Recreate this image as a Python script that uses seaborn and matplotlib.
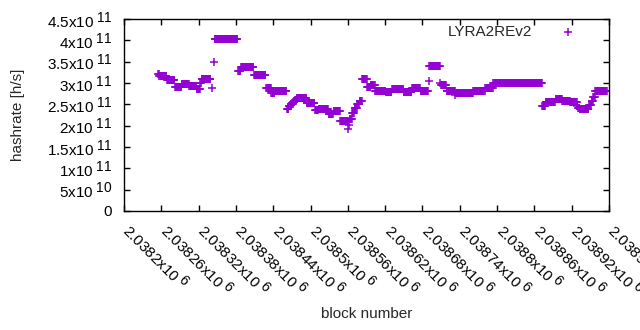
import numpy as np
import pandas as pd
import matplotlib
matplotlib.use("Agg")
import matplotlib.pyplot as plt
import matplotlib._mathtext as mathtext_impl
import seaborn as sns
from matplotlib.ticker import MultipleLocator, FuncFormatter
from matplotlib.transforms import ScaledTranslation

# Hashrate read off the chart as runs of constant value
# (block offset from 2038200, first and last block of the run, hashrate in 1e11 h/s)
BLOCK_BASE = 2038200
run_start = [55, 57, 69, 82, 93, 105, 117, 123, 125, 141, 144, 146, 184, 188, 209,
             229, 237, 243, 262, 265, 268, 272, 275, 278, 294, 307, 313, 329, 337, 348,
             361, 362, 363, 367, 371, 375, 379, 383, 391, 397, 404, 421, 431, 450, 463,
             477, 490, 491, 509, 510, 519, 533, 534, 562, 581, 594, 673, 678, 694, 705,
             718, 729, 730, 733, 748, 752, 755, 758]
run_end = [56, 68, 81, 92, 104, 116, 122, 124, 139, 141, 144, 182, 187, 208, 227,
           236, 242, 261, 264, 267, 271, 274, 277, 293, 306, 312, 328, 336, 347, 360,
           361, 362, 366, 370, 374, 378, 382, 390, 396, 403, 420, 430, 449, 462, 476,
           489, 490, 508, 509, 518, 532, 533, 561, 580, 593, 672, 677, 693, 704, 717,
           728, 729, 732, 747, 751, 754, 757, 776]
run_rate = [3.21, 3.17, 3.06, 2.90, 2.97, 2.92, 2.87, 3.00, 3.09, 2.89, 3.49, 4.02, 3.29, 3.37, 3.18,
            2.89, 2.76, 2.82, 2.40, 2.45, 2.50, 2.55, 2.60, 2.64, 2.52, 2.37, 2.40, 2.27, 2.34, 2.12,
            1.93, 2.01, 2.15, 2.29, 2.42, 2.50, 2.57, 3.09, 2.91, 2.95, 2.81, 2.80, 2.87, 2.79, 2.88,
            2.82, 3.05, 3.41, 3.00, 2.95, 2.82, 2.71, 2.77, 2.82, 2.88, 3.01, 2.46, 2.56, 2.63, 2.58,
            2.56, 2.46, 2.42, 2.38, 2.48, 2.57, 2.67, 2.82]

PURPLE = "#9400d3"

# one row per block
blocks, rates = [], []
for s, e, r in zip(run_start, run_end, run_rate):
    n = e - s + 1
    blocks.extend(BLOCK_BASE + np.arange(s, e + 1))
    rates.extend([r * 1e11] * n)
df = pd.DataFrame({"block": blocks, "hashrate": rates})

sns.set_style("ticks")
plt.rcParams["font.family"] = ["Liberation Sans", "DejaVu Sans"]
plt.rcParams["mathtext.fontset"] = "custom"
plt.rcParams["mathtext.rm"] = "Liberation Sans"
plt.rcParams["mathtext.it"] = "Liberation Sans"
plt.rcParams["mathtext.bf"] = "Liberation Sans"
# gnuplot-like exponents: nearly full size
mathtext_impl.SHRINK_FACTOR = 0.9


def gnu_fmt(v, pos=None):
    if v == 0:
        return "0"
    e = int(np.floor(np.log10(abs(v)) + 1e-9))
    m = v / 10 ** e
    return f"{m:g}x10$^{{\\;{e}}}$"


fig = plt.figure(figsize=(6.4, 3.3), dpi=100)
ax = fig.add_axes([124 / 640, 1 - 211 / 330, 485 / 640, 192 / 330])

sns.scatterplot(data=df, x="block", y="hashrate", marker="+", color=PURPLE,
                s=40, linewidth=1.1, label="LYRA2REv2", ax=ax)

ax.set_xlim(BLOCK_BASE, BLOCK_BASE + 780)
ax.set_ylim(0, 4.5e11)
ax.xaxis.set_major_locator(MultipleLocator(60))
ax.yaxis.set_major_locator(MultipleLocator(5e10))
ax.xaxis.set_major_formatter(FuncFormatter(gnu_fmt))
ax.yaxis.set_major_formatter(FuncFormatter(gnu_fmt))

ax.tick_params(direction="in", length=4, width=1, top=True, right=True,
               labelsize=11, colors="black")
ax.tick_params(axis="y", pad=8.5)
ax.tick_params(axis="x", pad=6)
shift = ScaledTranslation(10 / 100, 0, fig.dpi_scale_trans)
for lab in ax.get_xticklabels():
    lab.set_rotation(-45)
    lab.set_ha("left")
    lab.set_va("top")
    lab.set_rotation_mode("anchor")
    lab.set_transform(lab.get_transform() + shift)
for sp in ax.spines.values():
    sp.set_linewidth(1)
    sp.set_color("black")

ax.set_xlabel("block number", fontsize=11)
ax.set_ylabel("hashrate [h/s]", fontsize=11)
ax.xaxis.set_label_coords(0.5, -0.50)
ax.yaxis.set_label_coords(-0.205, 0.5)

ax.legend(loc="upper right", bbox_to_anchor=(0.959, 1.0), frameon=False,
          markerfirst=False, fontsize=11, handletextpad=1.3, borderaxespad=0,
          handlelength=2.0)

fig.savefig("out.png", dpi=100)
